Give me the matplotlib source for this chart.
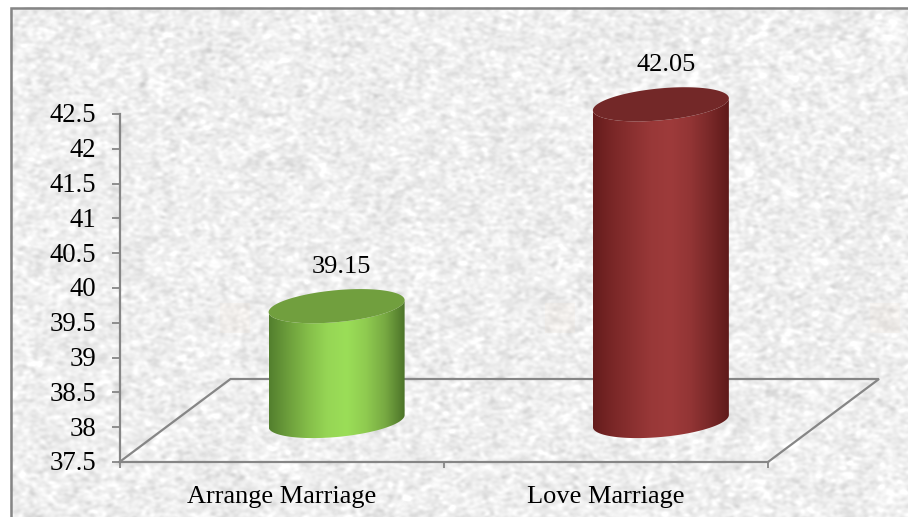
import numpy as np
import matplotlib
matplotlib.use("Agg")
import matplotlib.pyplot as plt
from matplotlib.colors import LinearSegmentedColormap
from matplotlib.lines import Line2D
from matplotlib.patches import Polygon, Rectangle
from matplotlib.ticker import FormatStrFormatter
from matplotlib.transforms import ScaledTranslation

categories = ["Arrange Marriage", "Love Marriage"]
values = [39.15, 42.05]
y_ticks = [37.5, 38, 38.5, 39, 39.5, 40, 40.5, 41, 41.5, 42, 42.5]

W, H = 908, 517
plt.rcParams["font.family"] = ["Liberation Serif", "DejaVu Serif"]
fig = plt.figure(figsize=(W / 100, H / 100), dpi=100, facecolor="white")


def fx(px):
    return px / W


def fy(py):
    return 1 - py / H


# ---- paper texture background (decorative only) ----
bg = fig.add_axes([fx(10), 0, 1 - fx(10), fy(7)], zorder=0)
rng = np.random.default_rng(7)
h, w = 510, 898
noise = rng.normal(size=(h, w))
ky = np.fft.fftfreq(h)[:, None]
kx = np.fft.fftfreq(w)[None, :]
lp = np.exp(-((kx * 9) ** 2 + (ky * 6.5) ** 2))
fine = np.fft.ifft2(np.fft.fft2(noise) * lp).real
lp2 = np.exp(-((kx * 30) ** 2 + (ky * 30) ** 2))
coarse = np.fft.ifft2(np.fft.fft2(noise[::-1]) * lp2).real
tex = fine / fine.std() * 7 + coarse / coarse.std() * 1.5
tex = np.clip(238 + tex, 205, 255) / 255
bg.imshow(tex, cmap="gray", vmin=0, vmax=1, aspect="auto", interpolation="bilinear")
bg.axis("off")

# faint watermark tints
for px in (235, 560, 885):
    fig.add_artist(Rectangle((fx(px - 15), fy(333)), 30 / W, 30 / H, facecolor="#f3e4d6",
                             edgecolor="none", alpha=0.2, zorder=0.5))

# ---- frame (left and top edges only) ----
frame_color = "#858585"
fig.add_artist(Line2D([fx(10.5), fx(10.5), 1], [0, fy(7.5), fy(7.5)],
                      color=frame_color, lw=1.8, solid_joinstyle="miter", zorder=0.6))

# ---- main axes: x = category slots, y = value scale ----
ax = fig.add_axes([fx(119.5), fy(462), fx(768 - 119.5), (462 - 114) / H], zorder=1)
ax.patch.set_alpha(0)
ax.set_xlim(0, 2)
ax.set_ylim(37.5, 42.5)
px_x = (768 - 119.5) / 2      # pixels per category slot
px_y = (462 - 114) / 5        # pixels per value unit

axis_color = "#868686"
for s in ("top", "right"):
    ax.spines[s].set_visible(False)
for s in ("left", "bottom"):
    ax.spines[s].set_color(axis_color)
    ax.spines[s].set_linewidth(1.6)

ax.set_yticks(y_ticks)
ax.yaxis.set_major_formatter(FormatStrFormatter("%g"))
ax.tick_params(axis="y", length=6, width=1.3, color=axis_color, pad=11, labelsize=19.3, labelcolor="black")
nudge = ScaledTranslation(0, 1 / 100, fig.dpi_scale_trans)
for lab in ax.get_yticklabels():
    lab.set_transform(lab.get_transform() + nudge)
ax.set_xticks([0, 1, 2])
ax.set_xticklabels([])
ax.tick_params(axis="x", which="major", length=4.5, width=1.3, color=axis_color)
ax.set_xticks([i + 0.5 for i in range(len(categories))], minor=True)
ax.set_xticklabels(categories, minor=True)
ax.tick_params(axis="x", which="minor", length=0, pad=17.5, labelsize=19, labelcolor="black")

# ---- 3D floor ----
depth_x = 111 / px_x
depth_y = 83 / px_y
ax.plot([0, depth_x, 2 + depth_x, 2], [37.5, 37.5 + depth_y, 37.5 + depth_y, 37.5],
        color=axis_color, lw=1.6, clip_on=False, zorder=2, solid_joinstyle="miter")

# ---- cylinders ----
bar_half = 68 / px_x
shift_x = 55 / px_x
base_lift = 41 / px_y
skew = 6 / px_y
minor_b = 16 / px_y
t = np.linspace(0, 2 * np.pi, 181)

styles = [
    {"stops": ["#537f2e", "#6d9f3c", "#84bd49", "#96d655", "#9bde58", "#8fcb50", "#77a942", "#4c7329"],
     "top": "#719f3e"},
    {"stops": ["#651c1c", "#7a2727", "#8a3030", "#993838", "#9e3b3b", "#933535", "#7a2929", "#5f1a1a"],
     "top": "#732828"},
]

for i, (val, st) in enumerate(zip(values, styles)):
    cx = i + 0.5 + shift_x
    y0 = 37.5 + base_lift
    y1 = val + base_lift
    xe = cx + bar_half * np.cos(t)
    offs = skew * np.cos(t) + minor_b * np.sin(t)

    # body outline: lower half of bottom ellipse + lower half of top ellipse
    lower = np.sin(t) <= 0
    order = np.argsort(xe[lower])
    xb = xe[lower][order]
    ob = offs[lower][order]
    body = Polygon(np.column_stack([np.r_[xb, xb[::-1]], np.r_[y0 + ob, y1 + ob[::-1]]]), closed=True,
                   transform=ax.transData, facecolor="none", edgecolor="none")
    ax.add_patch(body)
    body.set_clip_on(False)

    cmap = LinearSegmentedColormap.from_list(f"c{i}", st["stops"])
    grad = np.linspace(0, 1, 256)[None, :]
    im = ax.imshow(grad, cmap=cmap, aspect="auto", interpolation="bilinear", zorder=3,
                   extent=(cx - bar_half, cx + bar_half, y0 - 1, y1 + 1))
    im.set_clip_path(body)
    im.set_clip_box(fig.bbox)

    cap = Polygon(np.column_stack([xe, y1 + offs]), closed=True,
                  facecolor=st["top"], edgecolor="none", zorder=4, clip_on=False)
    ax.add_patch(cap)

    ax.annotate(f"{val:g}", (cx, y1), xytext=(3.5, 28.5), textcoords="offset points",
                ha="center", va="center", fontsize=19, color="black", annotation_clip=False)

ax.set_xlim(0, 2)
ax.set_ylim(37.5, 42.5)
fig.savefig("out.png", dpi=100, facecolor="white")
